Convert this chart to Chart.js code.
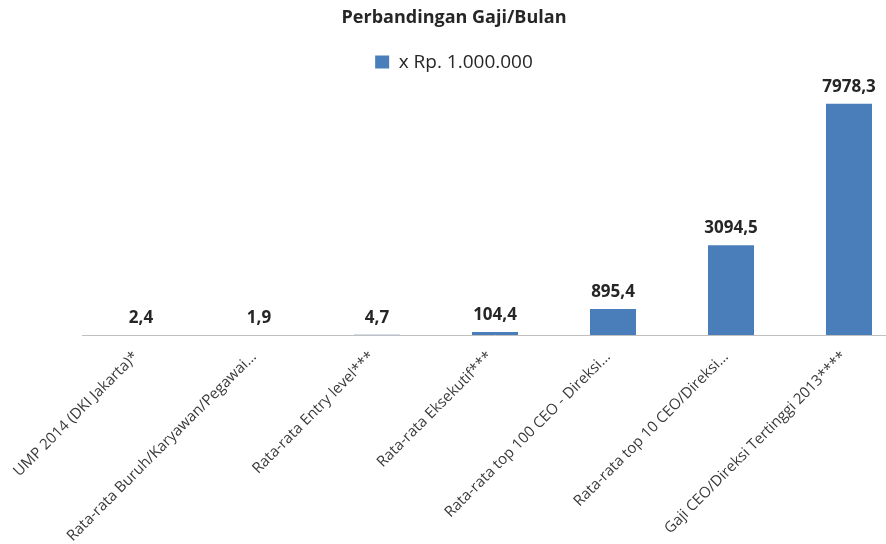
<!DOCTYPE html>
<html>
<head>
<meta charset="utf-8">
<script src="https://cdn.jsdelivr.net/npm/chart.js@4/dist/chart.umd.min.js"></script>
<style>
  html, body { margin: 0; padding: 0; background: #fff; overflow: hidden; }
  #wrap { position: relative; width: 908px; height: 544px; }
</style>
</head>
<body>
<div id="wrap"><canvas id="gaji"></canvas></div>
<script>
const categories = [
  'UMP 2014 (DKI Jakarta)*',
  'Rata-rata Buruh/Karyawan/Pegawai...',
  'Rata-rata Entry level***',
  'Rata-rata Eksekutif***',
  'Rata-rata top 100 CEO - Direksi...',
  'Rata-rata top 10 CEO/Direksi...',
  'Gaji CEO/Direksi Tertinggi 2013****'
];
const gajiJuta = [2.4, 1.9, 4.7, 104.4, 895.4, 3094.5, 7978.3];
const seriesLabel = 'x Rp. 1.000.000';

const fmtId = (v) => v.toFixed(1).replace('.', ',');

// value labels above each bar
const barLabels = {
  id: 'barLabels',
  afterDatasetsDraw(chart) {
    const { ctx } = chart;
    const meta = chart.getDatasetMeta(0);
    ctx.save();
    ctx.font = 'bold 17px "Open Sans"';
    ctx.fillStyle = '#262626';
    ctx.textAlign = 'center';
    ctx.textBaseline = 'middle';
    meta.data.forEach((bar, i) => {
      ctx.fillText(fmtId(gajiJuta[i]), bar.x, bar.y - 17);
    });
    ctx.restore();
  }
};

new Chart(document.getElementById('gaji'), {
  type: 'bar',
  data: {
    labels: categories,
    datasets: [{
      label: seriesLabel,
      data: gajiJuta,
      backgroundColor: '#4a7ebb',
      categoryPercentage: 1,
      barPercentage: 0.39
    }]
  },
  options: {
    responsive: true,
    maintainAspectRatio: false,
    animation: false,
    layout: { padding: 0 },
    plugins: {
      title: {
        display: true,
        text: 'Perbandingan Gaji/Bulan',
        color: '#262626',
        font: { family: '"Open Sans"', size: 18, weight: 'bold' },
        padding: { top: 7, bottom: 20 }
      },
      legend: {
        display: true,
        labels: {
          color: '#262626',
          font: { family: '"Open Sans"', size: 19 },
          boxWidth: 14,
          boxHeight: 13,
          padding: 4
        }
      },
      tooltip: { enabled: false }
    },
    scales: {
      x: {
        grid: { display: false, drawTicks: false },
        border: { display: true, color: '#bfbfbf', width: 1 },
        ticks: {
          color: '#3a3a3a',
          font: { family: '"Open Sans"', size: 15 },
          minRotation: 45,
          maxRotation: 45,
          autoSkip: false,
          padding: 13,
          labelOffset: -5
        },
        afterFit(scale) { scale.height = 209; }
      },
      y: {
        display: true,
        min: 0,
        max: 8740,
        grid: { display: false, drawTicks: false },
        border: { display: false },
        ticks: { display: false },
        afterFit(scale) { scale.width = 82; }
      }
    }
  },
  plugins: [barLabels]
});
</script>
</body>
</html>
